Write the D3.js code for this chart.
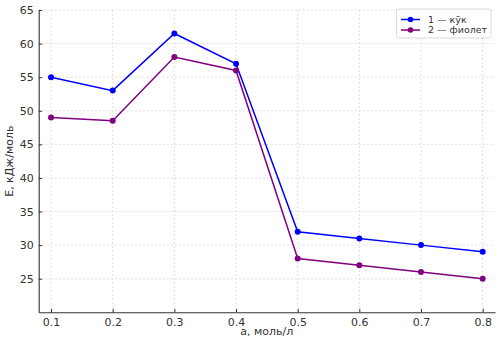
<!DOCTYPE html>
<html><head><meta charset="utf-8">
<script src="https://cdn.jsdelivr.net/npm/d3@7"></script>
<style>body{margin:0;background:#fff;} svg{display:block;font-family:"DejaVu Sans",sans-serif;}</style>
</head><body>
<svg id="c" width="502" height="343"></svg>
<script>
const concentrations = [0.1, 0.2, 0.3, 0.4, 0.5, 0.6, 0.7, 0.8];
const seriesBlue = [55, 53, 61.5, 57, 32, 31, 30, 29];
const seriesPurple = [49, 48.5, 58, 56, 28, 27, 26, 25];
const seriesNames = ["1 — кӯк", "2 — фиолет"];
const seriesColors = ["#0000ff", "#800080"];
const yTicks = [25, 30, 35, 40, 45, 50, 55, 60, 65];
const xLabel = "a, моль/л";
const yLabel = "E, кДж/моль";

const svg = d3.select("#c");
const L = 38.7, R = 495, T = 10, B = 312.3;
const x = d3.scaleLinear().domain([0.08, 0.82]).range([L, R]);
const y = d3.scaleLinear().domain([20, 65]).range([B, T]);

// grid
const g = svg.append("g");
g.selectAll(".vx").data(concentrations).enter().append("line")
  .attr("x1", d => x(d)).attr("x2", d => x(d)).attr("y1", T).attr("y2", B)
  .attr("stroke", "#d8d8d8").attr("stroke-width", 0.8).attr("stroke-dasharray", "2,2");
g.selectAll(".hy").data(yTicks).enter().append("line")
  .attr("x1", L).attr("x2", R).attr("y1", d => y(d)).attr("y2", d => y(d))
  .attr("stroke", "#d8d8d8").attr("stroke-width", 0.8).attr("stroke-dasharray", "2,2");

// axes
const xAxis = d3.axisBottom(x).tickValues(concentrations).tickFormat(d3.format(".1f")).tickSizeInner(-3.5).tickSizeOuter(0).tickPadding(6);
const yAxis = d3.axisLeft(y).tickValues(yTicks).tickSizeInner(-3.5).tickSizeOuter(0).tickPadding(6);
const gx = svg.append("g").attr("transform", `translate(0,${B})`).call(xAxis);
const gy = svg.append("g").attr("transform", `translate(${L},0)`).call(yAxis);
[gx, gy].forEach(a => {
  a.select(".domain").attr("stroke", "#333").attr("stroke-width", 1.1);
  a.selectAll(".tick line").attr("stroke", "#333");
  a.selectAll(".tick text").attr("fill", "#333").attr("font-size", 11).attr("font-family", "DejaVu Sans");
});
gy.selectAll(".tick text").attr("x", -5);

// lines
const data = [seriesBlue, seriesPurple];
const line = d3.line().x((d, i) => x(concentrations[i])).y(d => y(d));
data.forEach((s, k) => {
  svg.append("path").datum(s).attr("d", line).attr("fill", "none")
    .attr("stroke", seriesColors[k]).attr("stroke-width", 1.5);
  svg.selectAll(".m" + k).data(s).enter().append("circle")
    .attr("cx", (d, i) => x(concentrations[i])).attr("cy", d => y(d)).attr("r", 3)
    .attr("fill", seriesColors[k]);
});

// labels
svg.append("text").attr("x", (L + R) / 2).attr("y", 335).attr("text-anchor", "middle")
  .attr("font-size", 11).attr("fill", "#333").text(xLabel);
svg.append("text").attr("transform", `translate(13,${(T + B) / 2}) rotate(-90)`).attr("text-anchor", "middle")
  .attr("font-size", 11).attr("fill", "#333").text(yLabel);

// legend
const lg = svg.append("g");
lg.append("rect").attr("x", 396.5).attr("y", 9).attr("width", 94.5).attr("height", 29).attr("rx", 2.5)
  .attr("fill", "#fff").attr("fill-opacity", 0.85).attr("stroke", "#d0d0d0").attr("stroke-width", 0.8);
seriesNames.forEach((n, k) => {
  const yy = 19.5 + k * 10.5;
  lg.append("line").attr("x1", 401).attr("x2", 420).attr("y1", yy).attr("y2", yy)
    .attr("stroke", seriesColors[k]).attr("stroke-width", 1.5);
  lg.append("circle").attr("cx", 410.5).attr("cy", yy).attr("r", 2.8).attr("fill", seriesColors[k]);
  lg.append("text").attr("x", 428).attr("y", yy).attr("dy", "0.35em").attr("font-size", 9.5)
    .attr("fill", "#333").text(n);
});
</script>
</body></html>
